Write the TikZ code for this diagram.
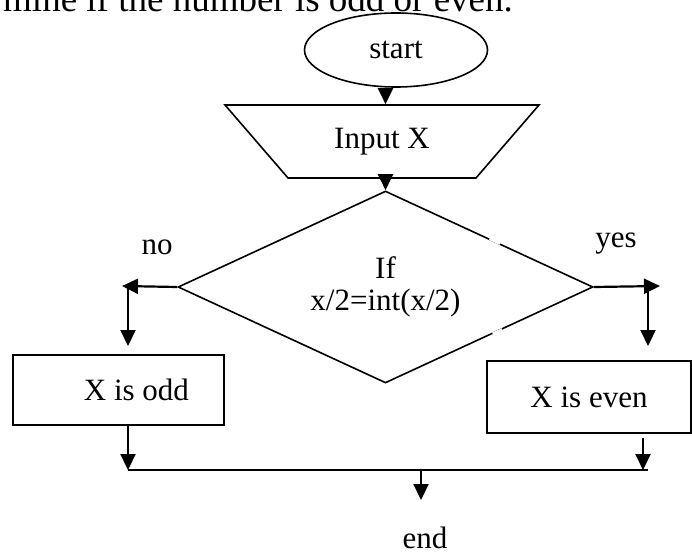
\documentclass[tikz,border=0pt]{standalone}
\usepackage{fontspec}
\setmainfont{Liberation Serif}
\usetikzlibrary{shapes.geometric,arrows.meta,calc}
\tikzset{
	arr/.style={line width=2.2pt,-{Triangle[length=16pt,width=15pt]}},
	box/.style={draw,line width=2pt,inner sep=2pt},
}
\begin{document}
\begin{tikzpicture}[x=1pt,y=-1pt,font=\fontsize{31}{32}\selectfont]
	\useasboundingbox (0,0) rectangle (692,553);
	\node[anchor=base west,inner sep=0,font=\fontsize{37}{40}\selectfont] (title) at (3,12) {mine if the number is odd or even.};
	
	\node[ellipse,draw,line width=1.6pt,minimum width=183pt,minimum height=74pt,inner sep=0] (start) at (396,50) {\raisebox{-5pt}{start}};
	\node[trapezium,draw,line width=1.6pt,shape border rotate=180,trapezium angle=49.2,trapezium stretches body,minimum width=314pt,text height=21pt,text depth=7pt,inner xsep=0,inner ysep=22.5pt] (input) at (382,141.5) {Input X};
	\node[diamond,draw,line width=1.6pt,aspect=2.2,minimum width=415pt,minimum height=192pt,inner sep=0,align=center] (dec) at (385.5,287) {If\\x/2=int(x/2)};
	% breaks in the right edges
	\draw[white,line width=3pt] ($(dec.north)!0.5!(dec.east)$) -- ($(dec.north)!0.55!(dec.east)$);
	\draw[white,line width=3pt] ($(dec.east)!0.44!(dec.south)$) -- ($(dec.east)!0.485!(dec.south)$);
	
	\draw[arr] (start.south -| dec.north) -- (input.north -| dec.north);
	\draw[arr] (input.south -| dec.north) -- (dec.north);
	
	\node[anchor=base] (no) at (157,254) {no};
	\node[anchor=base] (yes) at (616,247) {yes};
	
	\node[box,minimum width=211pt,minimum height=70pt] (odd) at (118.5,390) {\hspace{36pt}X is odd};
	\node[box,minimum width=204pt,minimum height=72pt] (even) at (589,397) {\raisebox{-4pt}{X is even}};
	
	% branches
	\coordinate (nl) at (128,286);
	\coordinate (yr) at (648,286);
	\draw[arr] (dec.west) -- ($(nl)+(-6,0)$);
	\draw[arr] (nl) -- ($(nl |- odd.north)+(0,-8)$);
	\draw[arr] (dec.east) -- ($(yr)+(12,0)$);
	\draw[arr] (yr) -- ($(yr |- even.north)+(0,-14)$);
	
	% join
	\coordinate (m) at (421,470);
	\coordinate (er) at (643,470);
	\coordinate (et) at (421,500);
	\node[anchor=base,inner sep=2pt] (endn) at (425,548) {end};
	\draw[arr] (odd.south -| nl) -- (nl |- m);
	\draw[arr] ($(er |- even.south)+(0,4)$) -- (er);
	\draw[line width=2.2pt] (nl |- m) -- (yr |- m);
	\draw[arr] (m) -- (et);
\end{tikzpicture}
\end{document}
